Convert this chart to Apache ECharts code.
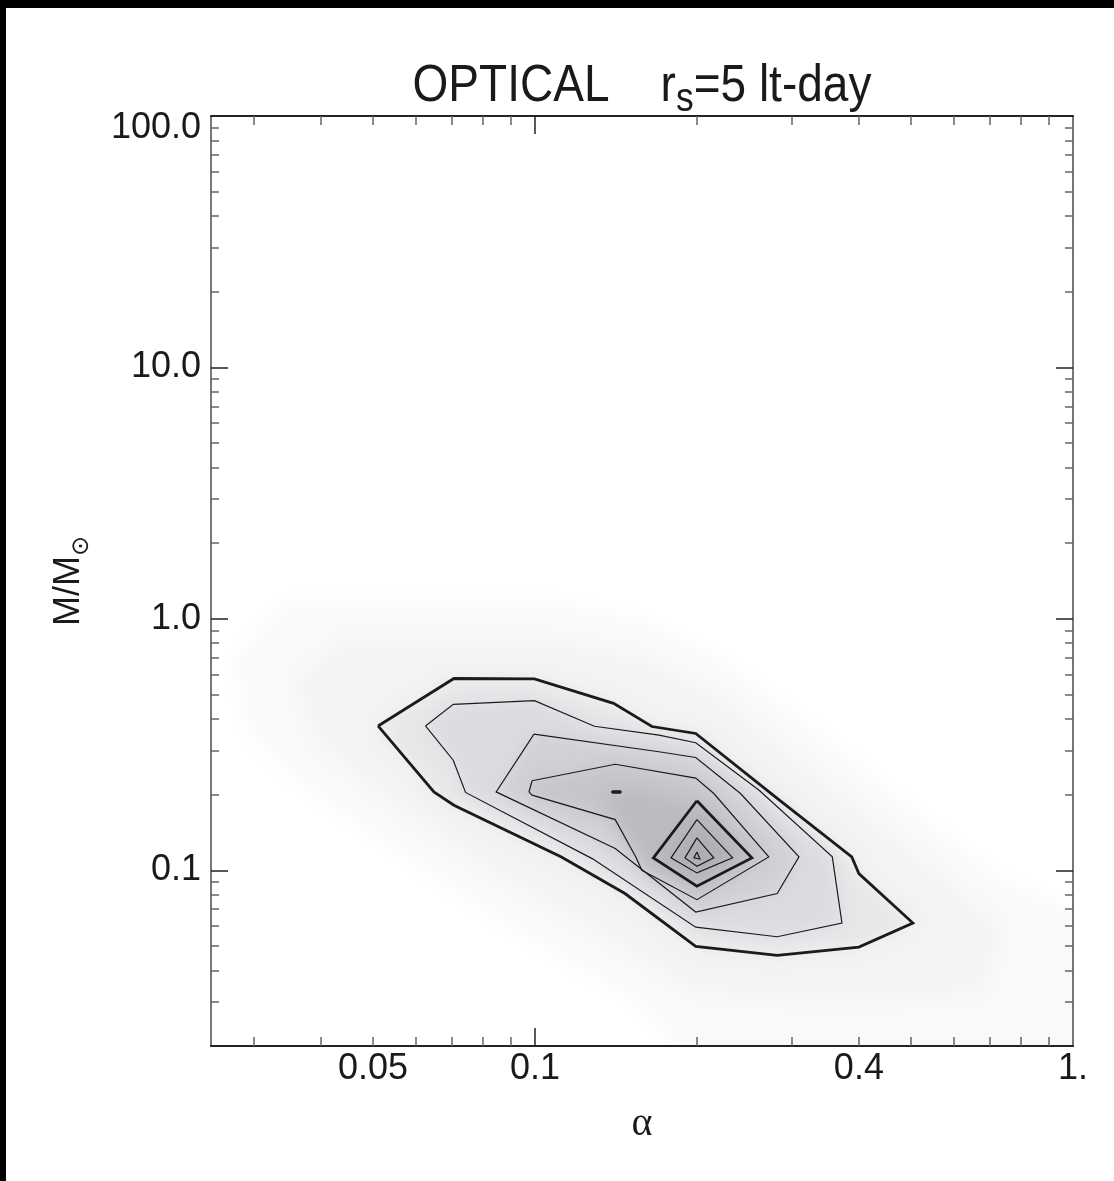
<!DOCTYPE html>
<html><head><meta charset="utf-8">
<script src="https://cdn.jsdelivr.net/npm/echarts@6/dist/echarts.min.js"></script>
<style>
html,body{margin:0;padding:0;background:#fff;}
#wrap{position:relative;width:1114px;height:1181px;overflow:hidden;}
#bg,#main{position:absolute;left:0;top:0;width:1114px;height:1181px;}
#bg{filter:blur(9px);clip-path:inset(116px 41px 135px 211px);}
</style></head><body>
<div id="wrap"><div id="bg"></div><div id="main"></div></div>
<script>
// ---------- tick values / labels ----------
const xTickValues = [0.05, 0.1, 0.4, 1];
const xTickLabels = ['0.05', '0.1', '0.4', '1.'];
const xMinorTicks = [0.03,0.04,0.05,0.06,0.07,0.08,0.09,0.2,0.3,0.4,0.5,0.6,0.7,0.8,0.9];
const xMajorTicks = [0.1];
const yTickValues = [0.1, 1, 10];
const yTickLabels = ['0.1', '1.0', '10.0'];
const yTopTickValue = [100];
const yTopTickLabel = ['100.0'];
const yMinorTicks = [0.03,0.04,0.05,0.06,0.07,0.08,0.09,0.2,0.3,0.4,0.5,0.6,0.7,0.8,0.9,
                     2,3,4,5,6,7,8,9,20,30,40,50,60,70,80,90];
const yMajorTicks = [0.1, 1, 10];

// ---------- contour polygons (alpha, M/Msun) ----------
const contour1 = [[0.0511,0.375],[0.0707,0.579],[0.0998,0.577],[0.140,0.461],[0.165,0.373],[0.199,0.350],[0.282,0.193],[0.388,0.113],[0.400,0.097],[0.504,0.0617],[0.400,0.0495],[0.282,0.0459],[0.199,0.0498],[0.147,0.0808],[0.112,0.113],[0.0707,0.1815],[0.0649,0.205]];
const contour2 = [[0.0626,0.375],[0.0705,0.457],[0.0998,0.473],[0.129,0.374],[0.170,0.345],[0.199,0.3215],[0.261,0.208],[0.357,0.113],[0.372,0.0617],[0.282,0.0544],[0.199,0.0594],[0.128,0.111],[0.0743,0.204],[0.0705,0.274]];
const contour3 = [[0.0996,0.348],[0.170,0.296],[0.199,0.281],[0.241,0.202],[0.3095,0.113],[0.282,0.0808],[0.199,0.0682],[0.141,0.122],[0.0847,0.205]];
const contour4 = [[0.0988,0.227],[0.141,0.264],[0.199,0.2326],[0.215,0.202],[0.272,0.113],[0.200,0.0764],[0.158,0.100],[0.154,0.113],[0.141,0.159],[0.0988,0.199],[0.0975,0.205]];
const contour5 = [[0.2,0.189],[0.253,0.112],[0.2,0.0864],[0.166,0.112]];
const contour6 = [[0.2,0.159],[0.233,0.112],[0.2,0.0976],[0.179,0.112]];
const contour7 = [[0.2,0.1345],[0.215,0.112],[0.2,0.1037],[0.19,0.112]];
const contour8 = [[0.2,0.1183],[0.2026,0.1109],[0.1975,0.112]];
const dotContour = [[0.1396,0.205],[0.1439,0.205]];

// ---------- density shading regions ----------
const haloOuter = [[0.0278,0.687],[0.0349,1.17],[0.0987,1.19],[0.156,0.99],[0.22,0.687],[0.31,0.396],[0.475,0.19],[0.729,0.0912],[1.4,0.05],[1.4,0.012],[0.229,0.012],[0.156,0.0303],[0.0934,0.0577],[0.0559,0.12],[0.0364,0.228],[0.0294,0.361]];
const haloInner = [[0.0364,0.571],[0.0451,0.825],[0.0975,0.825],[0.156,0.687],[0.22,0.476],[0.337,0.228],[0.517,0.1096],[0.729,0.0577],[0.669,0.0333],[0.383,0.0303],[0.2017,0.0333],[0.1315,0.0577],[0.0787,0.1096],[0.0513,0.208],[0.0397,0.33]];
const densityCore = [[0.1315,0.208],[0.163,0.208],[0.2017,0.173],[0.22,0.12],[0.2017,0.0871],[0.163,0.1],[0.143,0.144]];

const X_MIN = 0.025, X_MAX = 1.0, Y_MIN = 0.02, Y_MAX = 100;
const FONT = "'Liberation Sans', Arial, Helvetica, sans-serif";
const GRID = {left: 211, top: 116, right: 41, bottom: 135, outerBoundsMode: 'none'};

function closed(a) { return a.concat([a[0]]); }
function findLabel(vals, labs, v) {
  for (let i = 0; i < vals.length; i++) {
    if (Math.abs(Math.log10(vals[i]) - Math.log10(v)) < 1e-6) return labs[i];
  }
  return '';
}

// ---------- background density chart ----------
function hiddenAxis(min, max) {
  return {type: 'log', logBase: 10, min: min, max: max, show: false};
}
function polySeries(pts, color) {
  return {
    type: 'custom', coordinateSystem: 'cartesian2d', clip: false, silent: true,
    data: pts,
    renderItem: function (params, api) {
      if (params.dataIndex !== 0) return null;
      return {type: 'polygon', shape: {points: pts.map(function (p) { return api.coord(p); })},
              style: {fill: color}};
    }
  };
}
const bg = echarts.init(document.getElementById('bg'), null, {renderer: 'canvas'});
bg.setOption({
  animation: false,
  backgroundColor: '#ffffff',
  grid: GRID,
  xAxis: hiddenAxis(X_MIN, X_MAX),
  yAxis: hiddenAxis(Y_MIN, Y_MAX),
  series: [
    polySeries(haloOuter, '#f9f9fa'),
    polySeries(haloInner, '#f3f3f5'),
    polySeries(contour1, '#e6e7e9'),
    polySeries(contour2, '#dbdcdf'),
    polySeries(contour3, '#d0d1d4'),
    polySeries(contour4, '#c5c6ca'),
    polySeries(densityCore, '#bbbcc0'),
    polySeries(contour5, '#b6b7bb'),
    polySeries(contour6, '#b0b1b5'),
    polySeries(contour7, '#aaabb0')
  ]
});

// ---------- main chart ----------
function xAx(pos, ticks, len, tickColor, showLine) {
  return {
    type: 'log', logBase: 10, min: X_MIN, max: X_MAX, position: pos,
    axisLine: {show: showLine, onZero: false, lineStyle: {color: '#222', width: 2}},
    axisTick: {show: true, inside: true, length: len, customValues: ticks,
               lineStyle: {color: tickColor, width: 1.5}},
    axisLabel: {show: false},
    splitLine: {show: false}, minorTick: {show: false}, minorSplitLine: {show: false}
  };
}
function yAx(pos, ticks, len, tickColor, showLine) {
  return {
    type: 'log', logBase: 10, min: Y_MIN, max: Y_MAX, position: pos,
    axisLine: {show: showLine, onZero: false, lineStyle: {color: '#777', width: 2}},
    axisTick: {show: ticks.length > 0, inside: true, length: len, customValues: ticks,
               lineStyle: {color: tickColor, width: 1.5}},
    axisLabel: {show: false},
    splitLine: {show: false}, minorTick: {show: false}, minorSplitLine: {show: false}
  };
}

const xBottom = xAx('bottom', xMinorTicks, 9, '#666', true);
xBottom.axisLabel = {
  show: true, customValues: xTickValues, margin: 5,
  fontFamily: FONT, fontSize: 36, color: '#1a1a1a',
  formatter: function (v) { return findLabel(xTickValues, xTickLabels, v); }
};
xBottom.name = 'α';
xBottom.nameLocation = 'middle';
xBottom.nameGap = 58;
xBottom.nameTextStyle = {fontFamily: "'Liberation Serif', 'DejaVu Serif', serif", fontSize: 40, color: '#1a1a1a'};

const yLeft = yAx('left', yMinorTicks, 8, '#666', true);
yLeft.axisLabel = {
  show: true, customValues: yTickValues, margin: 10,
  fontFamily: FONT, fontSize: 36, color: '#1a1a1a',
  formatter: function (v) { return findLabel(yTickValues, yTickLabels, v); }
};
yLeft.name = '{m|M/M}{o|⊙}';
yLeft.nameLocation = 'middle';
yLeft.nameGap = 120;
yLeft.nameTextStyle = {
  color: '#1a1a1a',
  rich: {
    m: {fontFamily: FONT, fontSize: 36, lineHeight: 40, verticalAlign: 'top', color: '#1a1a1a'},
    o: {fontFamily: "'DejaVu Sans', sans-serif", fontSize: 24, lineHeight: 26, verticalAlign: 'top',
        padding: [19, 0, 0, 0], color: '#1a1a1a'}
  }
};

const yTopLabelAxis = yAx('left', [], 8, '#666', false);
yTopLabelAxis.axisLabel = {
  show: true, customValues: yTopTickValue, margin: 10,
  verticalAlign: 'top', lineHeight: 24,
  fontFamily: FONT, fontSize: 36, color: '#1a1a1a',
  formatter: function (v) { return findLabel(yTopTickValue, yTopTickLabel, v); }
};

function contourLine(pts, width) {
  return {
    type: 'line', xAxisIndex: 0, yAxisIndex: 0, data: closed(pts),
    symbol: 'none', silent: true, smooth: false,
    lineStyle: {color: '#1b1b1b', width: width, join: 'miter'}
  };
}

const main = echarts.init(document.getElementById('main'), null, {renderer: 'canvas'});
main.setOption({
  animation: false,
  backgroundColor: 'transparent',
  grid: GRID,
  xAxis: [
    xBottom,
    xAx('bottom', xMajorTicks, 18, '#222', false),
    xAx('top', xMinorTicks, 9, '#666', true),
    xAx('top', xMajorTicks, 18, '#222', false)
  ],
  yAxis: [
    yLeft,
    yAx('left', yMajorTicks, 17, '#222', false),
    yAx('right', yMinorTicks, 8, '#666', true),
    yAx('right', yMajorTicks, 17, '#222', false),
    yTopLabelAxis
  ],
  graphic: [
    {type: 'rect', shape: {x: 0, y: 0, width: 6, height: 1181}, style: {fill: '#000'}, silent: true},
    {type: 'rect', shape: {x: 0, y: 0, width: 1114, height: 8}, style: {fill: '#000'}, silent: true},
    {type: 'text', x: 642, y: 61, scaleX: 0.885, silent: true,
     style: {
       text: '{a|OPTICAL    r}{s|s}{a|=5 lt-day}',
       align: 'center', verticalAlign: 'top',
       rich: {
         a: {fontFamily: FONT, fontSize: 52, lineHeight: 60, verticalAlign: 'top', fill: '#1a1a1a'},
         s: {fontFamily: FONT, fontSize: 40, lineHeight: 40, verticalAlign: 'top', padding: [19, 0, 0, 0], fill: '#1a1a1a'}
       }
     }}
  ],
  series: [
    contourLine(contour1, 2.8),
    contourLine(contour2, 1.2),
    contourLine(contour3, 1.2),
    contourLine(contour4, 1.2),
    contourLine(contour5, 2.8),
    contourLine(contour6, 1.2),
    contourLine(contour7, 1.2),
    contourLine(contour8, 1.2),
    {type: 'line', xAxisIndex: 0, yAxisIndex: 0, data: dotContour, symbol: 'none', silent: true,
     lineStyle: {color: '#1b1b1b', width: 3.5, cap: 'round'}}
  ]
});
</script>
</body></html>
